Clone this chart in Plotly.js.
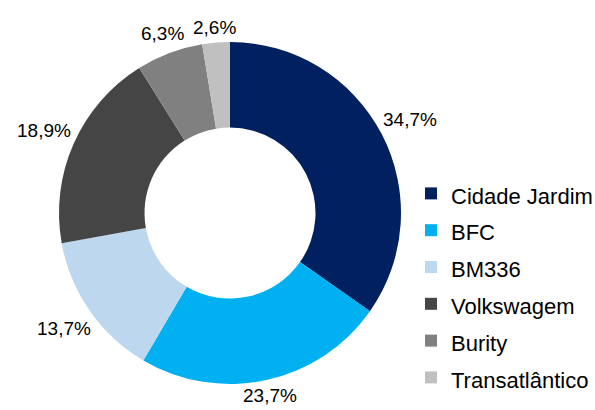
<!DOCTYPE html>
<html>
<head>
<meta charset="utf-8">
<script src="https://cdn.plot.ly/plotly-3.0.1.min.js"></script>
<style>html,body{margin:0;padding:0;background:#fff;}#chart{width:595px;height:410px;}</style>
</head>
<body>
<div id="chart"></div>
<script>
const categories = ["Cidade Jardim", "BFC", "BM336", "Volkswagem", "Burity", "Transatlântico"];
const values = [34.7, 23.7, 13.7, 18.9, 6.3, 2.6];
const valueLabels = ["34,7%", "23,7%", "13,7%", "18,9%", "6,3%", "2,6%"];
const colors = ["#002060", "#00B0F0", "#BDD7EE", "#454545", "#808080", "#C0C0C0"];

const W = 595, H = 410;
const FONT = "Liberation Sans, Arial, sans-serif";
const LABEL_SIZE = 19;
const LEGEND_SIZE = 22;
const domain = {x: [58 / W, 402 / W], y: [1 - 384 / H, 1 - 42 / H]};

const trace = {
  type: "pie",
  // legend text drawn at LEGEND_SIZE inside rows spaced for the larger legend font
  labels: categories.map(c => '<span style="font-size:' + LEGEND_SIZE + 'px">' + c + '</span>'),
  values: values,
  textinfo: "none",
  hole: 0.5,
  sort: false,
  direction: "clockwise",
  rotation: 0,
  marker: {colors: colors, line: {width: 0}},
  domain: domain,
  hoverinfo: "none"
};

// Percentage labels placed just outside each slice, at its mid-angle
const canvas = document.createElement("canvas");
const ctx = canvas.getContext("2d");
ctx.font = LABEL_SIZE + "px " + FONT;
const cxPx = (domain.x[0] + domain.x[1]) / 2 * W;
const cyPx = (1 - (domain.y[0] + domain.y[1]) / 2) * H;
const rPx = Math.min((domain.x[1] - domain.x[0]) * W, (domain.y[1] - domain.y[0]) * H) / 2;
const total = values.reduce((a, b) => a + b, 0);
const gap = 3;
let cum = 0;
const annotations = values.map((v, i) => {
  const theta = (cum + v / 2) / total * 2 * Math.PI;
  cum += v;
  const s = Math.sin(theta), c = Math.cos(theta);
  const w = ctx.measureText(valueLabels[i]).width;
  const h = LABEL_SIZE * 1.1;
  const R = rPx + gap + Math.abs(s) * w / 2 + Math.abs(c) * h / 2;
  const px = cxPx + R * s;
  const py = Math.min(cyPx - R * c, H - h / 2 - 4);
  return {
    text: valueLabels[i], showarrow: false,
    xref: "paper", yref: "paper", x: px / W, y: 1 - py / H,
    xanchor: "center", yanchor: "middle",
    font: {family: FONT, size: LABEL_SIZE, color: "#000"}
  };
});

const layout = {
  width: W, height: H,
  margin: {l: 0, r: 0, t: 0, b: 0, autoexpand: false},
  paper_bgcolor: "#fff",
  showlegend: true,
  legend: {
    x: 411 / W, xanchor: "left",
    y: 1 - 170 / H, yanchor: "top",
    font: {family: FONT, size: 26, color: "#000"},
    bgcolor: "rgba(0,0,0,0)",
    traceorder: "normal"
  },
  annotations: annotations,
  font: {family: FONT}
};

Plotly.newPlot("chart", [trace], layout, {staticPlot: true, displayModeBar: false});
</script>
</body>
</html>
